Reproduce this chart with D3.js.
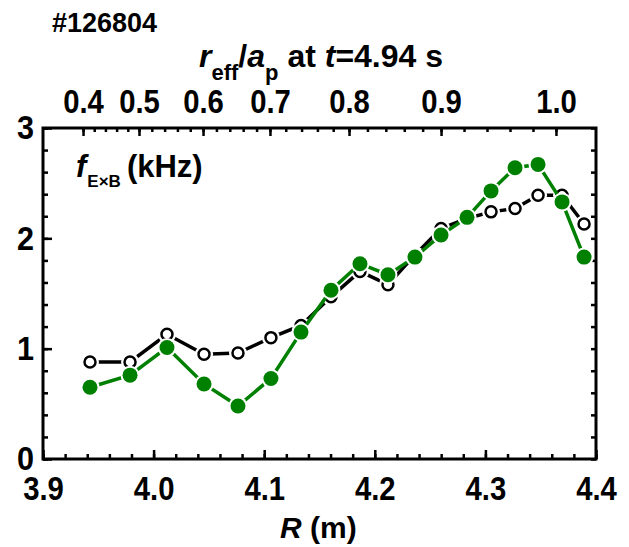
<!DOCTYPE html>
<html>
<head>
<meta charset="utf-8">
<script src="https://cdn.jsdelivr.net/npm/d3@7"></script>
<style>
    body { margin: 0px; padding: 0px; background: #ffffff; }
    svg { display: block; font-family: 'Liberation Sans', Arial, sans-serif; font-weight: bold; }
    .tick line { stroke: #000; stroke-width: 2.5px; }
    .domain { display: none; }
</style>
</head>
<body>
<div id="chart"></div>
<script>
    // major radius R (m) of every channel
    var radius = [3.9425, 3.9787, 4.0121, 4.0456, 4.0763, 4.1061, 4.1333, 4.1604, 4.1866,
                  4.2119, 4.2363, 4.2599, 4.2834, 4.3051, 4.3268, 4.3476, 4.3693, 4.3892];

    // f_ExB (kHz), open black circles
    var fOpen = [0.88, 0.88, 1.13, 0.95, 0.96, 1.10, 1.21, 1.47, 1.70,
                 1.58, 1.85, 2.09, 2.18, 2.24, 2.27, 2.39, 2.39, 2.13];

    // f_ExB (kHz), filled green circles
    var fFilled = [0.65, 0.76, 1.01, 0.68, 0.48, 0.73, 1.15, 1.53, 1.77,
                   1.67, 1.83, 2.03, 2.19, 2.43, 2.64, 2.67, 2.33, 1.83];

    var xTicks = [3.9, 4.0, 4.1, 4.2, 4.3, 4.4];
    var yTicks = [0, 1, 2, 3];

    // top axis: r_eff/a_p and the R where each label sits
    var rhoTicks = [0.4, 0.5, 0.6, 0.7, 0.8, 0.9, 1.0];
    var rhoTickR = [3.9362, 3.9868, 4.0447, 4.1052, 4.1767, 4.2599, 4.3638];

    var plotL = 43, plotR = 596, plotT = 128, plotB = 459;
    var green = "#008000";

    var svg = d3.select("#chart").append("svg")
        .attr("width", 629)
        .attr("height", 547);

    var x = d3.scaleLinear().domain([3.9, 4.4]).range([plotL, plotR]);
    var y = d3.scaleLinear().domain([0, 3]).range([plotB, plotT]);
    var rho = d3.scaleLinear().domain(rhoTicks).range(rhoTickR.map(x));

    var xMinor = d3.range(0, 26).map(function (i) { return 3.9 + i * 0.02; });
    var yMinor = d3.range(0, 16).map(function (i) { return i * 0.2; });
    var rhoMinor = d3.range(0, 31).map(function (i) { return 0.4 + i * 0.02; });

    // squeeze labels a bit, the original font is narrow
    function narrow(sel, k) {
        sel.selectAll("text").each(function () {
            var w = this.getComputedTextLength();
            d3.select(this).attr("textLength", w * k).attr("lengthAdjust", "spacingAndGlyphs");
        });
    }

    //bottom axis
    svg.append("g").attr("transform", "translate(0," + plotB + ")")
        .call(d3.axisBottom(x).tickValues(xMinor).tickSize(-5).tickFormat(""));
    var xAxis = svg.append("g").attr("transform", "translate(0," + plotB + ")")
        .call(d3.axisBottom(x).tickValues(xTicks).tickSize(-9).tickPadding(17).tickFormat(d3.format(".1f")));
    xAxis.selectAll("text").attr("font-size", 34).attr("fill", "#000");
    narrow(xAxis, 0.86);

    //left axis
    svg.append("g").attr("transform", "translate(" + plotL + ",0)")
        .call(d3.axisLeft(y).tickValues(yMinor).tickSize(-5).tickFormat(""));
    var yAxis = svg.append("g").attr("transform", "translate(" + plotL + ",0)")
        .call(d3.axisLeft(y).tickValues(yTicks).tickSize(-9).tickPadding(9).tickFormat(d3.format("d")));
    yAxis.selectAll("text").attr("font-size", 34).attr("fill", "#000");
    narrow(yAxis, 0.9);

    //right axis, ticks only
    svg.append("g").attr("transform", "translate(" + plotR + ",0)")
        .call(d3.axisRight(y).tickValues(yMinor).tickSize(-5).tickFormat(""));

    //top axis in r_eff/a_p
    svg.append("g").attr("transform", "translate(0," + plotT + ")")
        .call(d3.axisTop(rho).tickValues(rhoMinor).tickSize(-4).tickFormat(""));
    var topAxis = svg.append("g").attr("transform", "translate(0," + plotT + ")")
        .call(d3.axisTop(rho).tickValues(rhoTicks).tickSize(-8).tickPadding(15).tickFormat(d3.format(".1f")));
    topAxis.selectAll("text").attr("font-size", 34).attr("fill", "#000");
    narrow(topAxis, 0.86);

    //frame
    svg.append("rect")
        .attr("x", plotL).attr("y", plotT)
        .attr("width", plotR - plotL).attr("height", plotB - plotT)
        .attr("fill", "none").attr("stroke", "#000").attr("stroke-width", 3);

    function drawSeries(values, color, filled) {
        var pts = radius.map(function (r, i) { return [x(r), y(values[i])]; });
        svg.append("path")
            .attr("d", d3.line()(pts))
            .attr("fill", "none")
            .attr("stroke", color)
            .attr("stroke-width", 3.5);
        // white ring round each marker, gives the gaps in the line
        svg.append("g").selectAll("circle").data(pts).enter().append("circle")
            .attr("cx", function (d) { return d[0]; })
            .attr("cy", function (d) { return d[1]; })
            .attr("r", filled ? 9.5 : 9)
            .attr("fill", "#fff");
        svg.append("g").selectAll("circle").data(pts).enter().append("circle")
            .attr("cx", function (d) { return d[0]; })
            .attr("cy", function (d) { return d[1]; })
            .attr("r", filled ? 7.5 : 5.5)
            .attr("fill", filled ? color : "#fff")
            .attr("stroke", color)
            .attr("stroke-width", filled ? 0 : 2.5);
    }

    drawSeries(fOpen, "#000", false);
    drawSeries(fFilled, green, true);

    //texts
    svg.append("text").attr("x", 52).attr("y", 32)
        .attr("font-size", 27).text("#126804");

    var title = svg.append("text").attr("x", 199).attr("y", 67).attr("font-size", 32);
    title.append("tspan").attr("font-style", "italic").text("r");
    title.append("tspan").attr("font-size", 22).attr("dy", 13).text("eff");
    title.append("tspan").attr("dy", -13).text("/");
    title.append("tspan").attr("font-style", "italic").text("a");
    title.append("tspan").attr("font-size", 22).attr("dy", 13).text("p");
    title.append("tspan").attr("dy", -13).text(" at ");
    title.append("tspan").attr("font-style", "italic").text("t");
    title.append("tspan").text("=4.94 s");

    var label = svg.append("text").attr("x", 76).attr("y", 177).attr("font-size", 31);
    label.append("tspan").attr("font-style", "italic").text("f");
    label.append("tspan").attr("font-size", 17).attr("dy", 10).attr("dx", 1).text("E\u00d7B");
    label.append("tspan").attr("dy", -10).attr("dx", 6).text("(kHz)");

    var xLabel = svg.append("text").attr("x", 280).attr("y", 538).attr("font-size", 30);
    xLabel.append("tspan").attr("font-style", "italic").text("R");
    xLabel.append("tspan").text(" (m)");
</script>
</body>
</html>
